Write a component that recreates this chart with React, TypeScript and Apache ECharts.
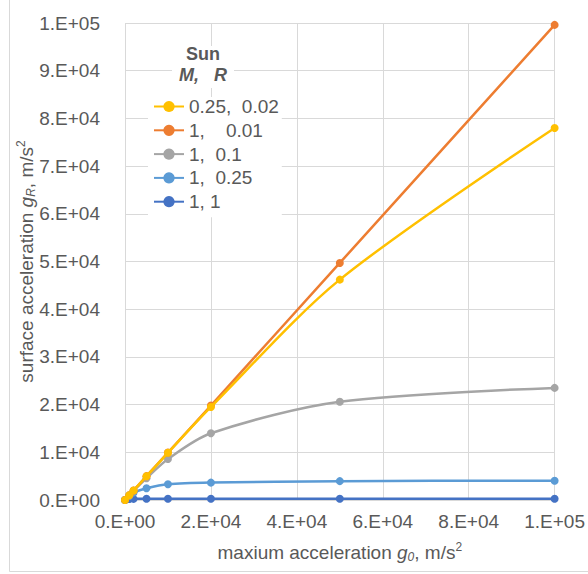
import React, { useEffect, useRef } from "react";
import * as echarts from "echarts";

// ---- data ----
const xValues = [0, 1000, 2000, 5000, 10000, 20000, 50000, 100000];
const seriesNames = ["0.25,  0.02", "1,    0.01", "1,  0.1", "1,  0.25", "1, 1"];
const yellowValues = [0, 1000, 2000, 4980, 9900, 19500, 46200, 78000];
const orangeValues = [0, 1000, 2000, 5000, 9950, 19800, 49700, 99600];
const grayValues = [0, 990, 1950, 4550, 8600, 14000, 20600, 23500];
const lightBlueValues = [0, 850, 1550, 2450, 3300, 3650, 3950, 4050];
const darkBlueValues = [0, 210, 240, 260, 268, 271, 273, 273];
const seriesColors = ["#FFC000", "#ED7D31", "#A5A5A5", "#5B9BD5", "#4472C4"];

const xTicks = [0, 20000, 40000, 60000, 80000, 100000];
const xTickLabels = ["0.E+00", "2.E+04", "4.E+04", "6.E+04", "8.E+04", "1.E+05"];
const yTicks = [0, 10000, 20000, 30000, 40000, 50000, 60000, 70000, 80000, 90000, 100000];
const yTickLabels = [
  "0.E+00", "1.E+04", "2.E+04", "3.E+04", "4.E+04", "5.E+04",
  "6.E+04", "7.E+04", "8.E+04", "9.E+04", "1.E+05",
];

const FONT = "Liberation Sans";
const TXT = "#595959";
const GRID = "#d9d9d9";
const FS = 19;

export default function App() {
  const ref = useRef<HTMLDivElement>(null);
  useEffect(() => {
    if (!ref.current) return;
    const chart = echarts.init(ref.current, undefined, { renderer: "svg" });
    const allValues = [yellowValues, orangeValues, grayValues, lightBlueValues, darkBlueValues];
    const richName = {
      i: { fontStyle: "italic", fontSize: FS, color: TXT, fontFamily: FONT, lineHeight: 22 },
      sub: { fontStyle: "italic", fontSize: 12, color: TXT, fontFamily: FONT, verticalAlign: "bottom", lineHeight: 12 },
      sup: { fontSize: 12, color: TXT, fontFamily: FONT, verticalAlign: "top", lineHeight: 12 },
    };
    chart.setOption({
      animation: false,
      backgroundColor: "#ffffff",
      grid: { left: 125, right: 29, top: 23, bottom: 74, containLabel: false },
      xAxis: {
        type: "value",
        min: 0,
        max: 100000,
        interval: 20000,
        axisLine: { show: false },
        axisTick: { show: false },
        splitLine: { show: true, lineStyle: { color: GRID, width: 1 } },
        axisLabel: {
          margin: 12,
          color: TXT,
          fontSize: FS,
          fontFamily: FONT,
          formatter: (v: number) => {
            const i = xTicks.indexOf(v);
            return i >= 0 ? xTickLabels[i] : "";
          },
        },
        name: "maxium acceleration {i|g}{sub|0}, m/s{sup|2}",
        nameLocation: "middle",
        nameMoveOverlap: false,
        nameGap: 41,
        nameTextStyle: { color: TXT, fontSize: FS, fontFamily: FONT, lineHeight: 22, rich: richName },
      },
      yAxis: {
        type: "value",
        min: 0,
        max: 100000,
        interval: 10000,
        axisLine: { show: false },
        axisTick: { show: false },
        splitLine: { show: true, lineStyle: { color: GRID, width: 1 } },
        axisLabel: {
          margin: 25,
          color: TXT,
          fontSize: FS,
          fontFamily: FONT,
          formatter: (v: number) => {
            const i = yTicks.indexOf(v);
            return i >= 0 ? yTickLabels[i] : "";
          },
        },
        name: "surface acceleration {i|g}{sub|R}, m/s{sup|2}",
        nameLocation: "middle",
        nameMoveOverlap: false,
        nameGap: 88,
        nameTextStyle: { color: TXT, fontSize: FS, fontFamily: FONT, lineHeight: 22, rich: richName },
      },
      legend: {
        orient: "vertical",
        left: 148,
        top: 97,
        backgroundColor: "#ffffff",
        padding: [0, 3, 6, 5],
        itemWidth: 30,
        itemHeight: 14,
        itemGap: 4.8,
        textStyle: { color: TXT, fontSize: FS, fontFamily: FONT, lineHeight: 18 },
        data: seriesNames,
      },
      graphic: [
        {
          type: "rect",
          shape: { x: 9.5, y: -5, width: 600, height: 576.5 },
          style: { fill: "none", stroke: GRID, lineWidth: 1 },
          silent: true,
          z: 100,
        },
        {
          type: "rect",
          shape: { x: 172, y: 46, width: 62, height: 42 },
          style: { fill: "#ffffff" },
          z: 50,
        },
        {
          type: "text",
          x: 203,
          y: 54,
          style: {
            text: "Sun",
            fill: TXT,
            font: `bold 18px ${FONT}`,
            align: "center",
            verticalAlign: "middle",
          },
          z: 51,
        },
        {
          type: "text",
          x: 203,
          y: 75,
          style: {
            text: "M,   R",
            fill: TXT,
            font: `italic bold 18px ${FONT}`,
            align: "center",
            verticalAlign: "middle",
          },
          z: 51,
        },
      ],
      series: seriesNames.map((name, k) => ({
        name,
        type: "line",
        smooth: 0.3,
        symbol: "circle",
        symbolSize: 8,
        showSymbol: true,
        color: seriesColors[k],
        lineStyle: { width: 2.5, color: seriesColors[k] },
        itemStyle: { color: seriesColors[k] },
        data: xValues.map((x, j) => [x, allValues[k][j]]),
        z: 2 + (seriesNames.length - k),
      })),
    });
    return () => chart.dispose();
  }, []);
  return (
    <div
      ref={ref}
      style={{ position: "fixed", left: 0, top: 0, width: 588, height: 574 }}
    />
  );
}
